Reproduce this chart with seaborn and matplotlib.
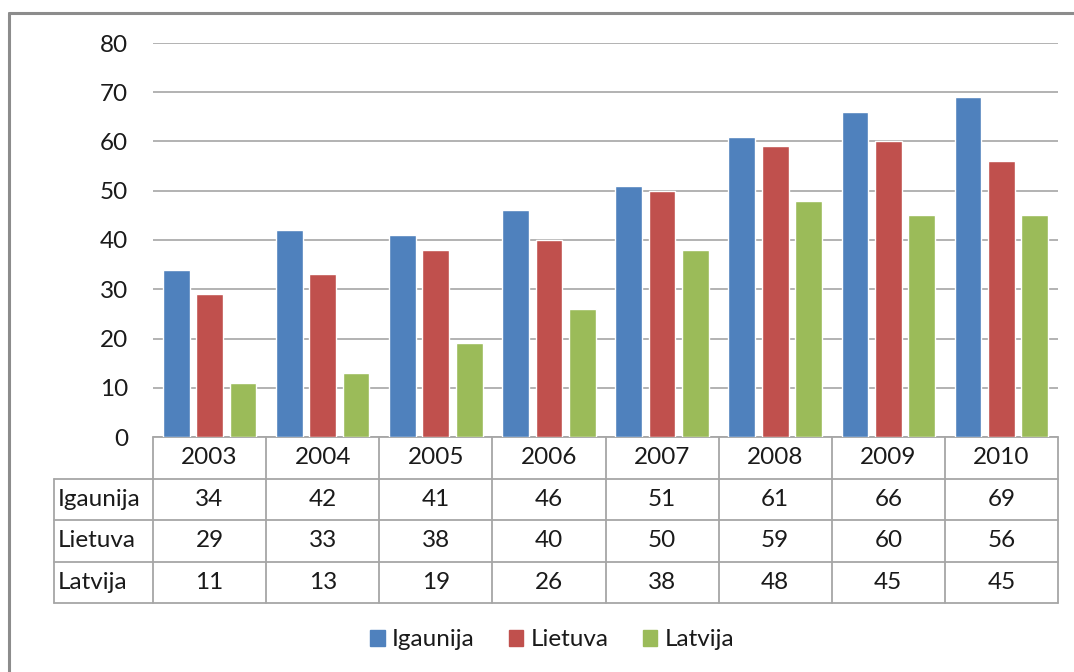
import matplotlib
matplotlib.use("Agg")
import matplotlib.pyplot as plt
import matplotlib.transforms as mtransforms
import numpy as np
import pandas as pd
import seaborn as sns

years = ['2003', '2004', '2005', '2006', '2007', '2008', '2009', '2010']
countries = ['Igaunija', 'Lietuva', 'Latvija']
igaunija = [34, 42, 41, 46, 51, 61, 66, 69]
lietuva = [29, 33, 38, 40, 50, 59, 60, 56]
latvija = [11, 13, 19, 26, 38, 48, 45, 45]
colors = ['#4F81BD', '#C0504D', '#9BBB59']

series = [igaunija, lietuva, latvija]
df = pd.DataFrame({
    'year': years * 3,
    'country': np.repeat(countries, len(years)),
    'value': igaunija + lietuva + latvija,
})

sns.set_style("white")
plt.rcParams['font.family'] = ['Lato', 'DejaVu Sans']
fs = 17.5
txt_c = '#1a1a1a'
line_c = '#A6A6A6'

W, H = 1074, 672
fig = plt.figure(figsize=(W / 100, H / 100), dpi=100)
# outer chart frame
fig.add_artist(plt.Line2D([9 / W, 9 / W], [0, 1 - 13 / H], color='#8C8C8C', lw=2.2))
fig.add_artist(plt.Line2D([9 / W, 1], [1 - 13 / H, 1 - 13 / H], color='#8C8C8C', lw=2.2))

x0, x1, y0, y1 = 153, 1058, 437, 43
ax = fig.add_axes([x0 / W, 1 - y0 / H, (x1 - x0) / W, (y0 - y1) / H])

sns.barplot(data=df, x='year', y='value', hue='country', order=years,
            hue_order=countries, palette=colors, width=0.885, gap=0.2,
            saturation=1, legend=False, ax=ax, zorder=3)

ax.set_xlim(-0.5, len(years) - 0.5)
ax.set_ylim(0, 80)
ax.set_yticks(range(0, 81, 10))
ax.yaxis.grid(True, color=line_c, lw=1.2, zorder=0)
ax.set_axisbelow(True)
for s in ax.spines.values():
    s.set_visible(False)
ax.set_xticks([])
ax.set_xlabel('')
ax.set_ylabel('')
ax.tick_params(axis='y', length=0, pad=18, labelsize=fs, labelcolor=txt_c)

# data table under the axes
trans = mtransforms.blended_transform_factory(ax.transData, ax.transAxes)
row_h = 41.5 / (y0 - y1)
lab_left = -0.5 - 99 / ((x1 - x0) / len(years))
n = len(years)

def hline(xa, xb, y):
    ax.plot([xa, xb], [y, y], transform=trans, color=line_c, lw=1.3, clip_on=False)

def vline(x, ya, yb):
    ax.plot([x, x], [ya, yb], transform=trans, color=line_c, lw=1.3, clip_on=False)

hline(-0.5, n - 0.5, 0)
for r in range(1, 5):
    hline(lab_left, n - 0.5, -r * row_h)
vline(lab_left, -row_h, -4 * row_h)
for i in range(n + 1):
    vline(i - 0.5, 0, -4 * row_h)

for i, yr in enumerate(years):
    ax.text(i, -0.5 * row_h, yr, transform=trans, ha='center', va='center',
            fontsize=fs, color=txt_c)
for r, (name, vals) in enumerate(zip(countries, series)):
    yc = -(r + 1.5) * row_h
    ax.text(lab_left + 0.03, yc, name, transform=trans, ha='left', va='center',
            fontsize=fs, color=txt_c)
    for i, v in enumerate(vals):
        ax.text(i, yc, str(v), transform=trans, ha='center', va='center',
                fontsize=fs, color=txt_c)

# legend
handles = [plt.Rectangle((0, 0), 1, 1, color=c) for c in colors]
fig.legend(handles, countries, loc='center', bbox_to_anchor=(552 / W, 1 - 640 / H),
           ncol=3, frameon=False, fontsize=fs, handlelength=0.6, handleheight=0.6,
           handletextpad=0.3, columnspacing=1.4, labelcolor=txt_c)

fig.savefig('out.png', dpi=100)
